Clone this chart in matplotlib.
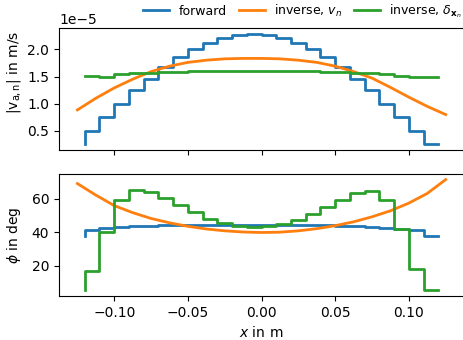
import matplotlib
matplotlib.use("Agg")
import matplotlib.pyplot as plt
import numpy as np

# sample positions of the step curves (m)
x_steps = [-0.12, -0.11, -0.10, -0.09, -0.08, -0.07, -0.06, -0.05, -0.04, -0.03, -0.02, -0.01,
           0.00, 0.01, 0.02, 0.03, 0.04, 0.05, 0.06, 0.07, 0.08, 0.09, 0.10, 0.11, 0.12]
# positions of the smooth inverse v_n curve (m)
x_smooth = [-0.125, -0.1125, -0.1, -0.0875, -0.075, -0.0625, -0.05, -0.0375, -0.025, -0.0125, 0.0,
            0.0125, 0.025, 0.0375, 0.05, 0.0625, 0.075, 0.0875, 0.1, 0.1125, 0.125]

# |v_a,n| in units of 1e-5 m/s
v_forward = [0.25, 0.50, 0.75, 1.00, 1.25, 1.46, 1.67, 1.86, 2.00, 2.115, 2.205, 2.265,
             2.29, 2.265, 2.205, 2.115, 2.00, 1.86, 1.67, 1.46, 1.25, 1.00, 0.75, 0.50, 0.25]
v_inv_vn = [0.885, 1.10, 1.29, 1.45, 1.59, 1.69, 1.76, 1.80, 1.825, 1.833, 1.833,
            1.825, 1.80, 1.76, 1.69, 1.59, 1.47, 1.30, 1.12, 0.95, 0.80]
v_inv_dx = [1.505, 1.505, 1.495, 1.54, 1.56, 1.573, 1.585, 1.59, 1.595, 1.60, 1.60, 1.60,
            1.60, 1.60, 1.60, 1.598, 1.595, 1.59, 1.582, 1.57, 1.56, 1.545, 1.505, 1.497, 1.49]
v_ticks = [0.5, 1.0, 1.5, 2.0]

# phi in deg
phi_forward = [38.0, 41.4, 42.6, 43.2, 43.6, 44.0, 44.2, 44.4, 44.5, 44.6, 44.6, 44.6,
               44.6, 44.6, 44.5, 44.4, 44.4, 44.2, 44.0, 43.6, 43.2, 42.8, 42.0, 41.4, 38.0]
phi_inv_vn = [69.2, 62.3, 56.0, 51.8, 48.3, 45.7, 43.6, 42.0, 40.9, 40.2, 39.9,
              40.1, 40.9, 42.2, 44.0, 46.3, 49.3, 52.9, 57.5, 63.3, 71.6]
phi_inv_dx = [5.2, 16.6, 40.2, 59.6, 65.2, 64.2, 60.6, 56.2, 52.0, 48.0, 45.6, 44.0,
              43.2, 43.6, 45.0, 47.6, 51.2, 55.2, 59.6, 63.6, 64.6, 59.6, 42.0, 18.0, 5.4]
phi_ticks = [20, 40, 60]

fig = plt.figure(figsize=(4.63, 3.40), dpi=100)
ax1 = fig.add_axes([0.1274, 0.5588, 0.875, 0.3588])
ax2 = fig.add_axes([0.1274, 0.1294, 0.875, 0.3588], sharex=ax1)

lw = 2.0
scale = 1e-5
ax1.plot(x_steps, np.array(v_forward) * scale, drawstyle="steps", lw=lw, label="forward")
ax1.plot(x_smooth, np.array(v_inv_vn) * scale, lw=lw, label=r"inverse, $v_n$")
ax1.plot(x_steps, np.array(v_inv_dx) * scale, drawstyle="steps", lw=lw,
         label=r"inverse, $\delta_{\mathbf{x}_n}$")
ax1.set_yticks(np.array(v_ticks) * scale)
ax1.set_ylabel(r"$|\mathrm{v}_{\mathrm{a,n}}|$ in m/s")
ax1.yaxis.set_label_coords(-0.09, 0.635)
ax1.tick_params(labelbottom=False)

ax2.plot(x_steps, phi_forward, drawstyle="steps", lw=lw)
ax2.plot(x_smooth, phi_inv_vn, lw=lw)
ax2.plot(x_steps, phi_inv_dx, drawstyle="steps", lw=lw)
ax2.set_ylabel(r"$\phi$ in deg")
ax2.yaxis.set_label_coords(-0.09, 0.5)
ax2.set_xlabel(r"$x$ in m")
ax2.set_yticks(phi_ticks)

fig.legend(loc="upper left", bbox_to_anchor=(0.285, 1.025), ncol=3, frameon=False,
           fontsize=9, handlelength=2.1, handletextpad=0.72, columnspacing=0.96)

fig.savefig("out.png", dpi=100)
